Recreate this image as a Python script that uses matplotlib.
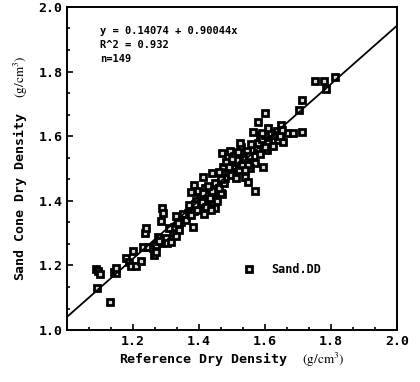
import numpy as np
import matplotlib
matplotlib.use("Agg")
import matplotlib.pyplot as plt
from matplotlib.ticker import MultipleLocator, AutoMinorLocator

# reference dry density vs sand cone dry density
ref_dd = [
    1.088, 1.092, 1.098, 1.089, 1.129, 1.141, 1.147, 1.147,
    1.177, 1.187, 1.200, 1.195, 1.210, 1.223, 1.231, 1.235, 1.238, 1.245,
    1.259, 1.262, 1.270, 1.274, 1.282, 1.268, 1.286, 1.289, 1.292, 1.299, 1.278,
    1.304, 1.315, 1.320, 1.325, 1.330, 1.340, 1.345, 1.355, 1.365, 1.370,
    1.381, 1.384, 1.401, 1.404, 1.427, 1.442, 1.447, 1.469, 1.569,
    1.376, 1.384, 1.392, 1.398, 1.411, 1.418, 1.425, 1.440, 1.447, 1.455,
    1.467, 1.310, 1.335, 1.350, 1.360, 1.375, 1.395, 1.410, 1.420, 1.432,
    1.438, 1.452, 1.460, 1.412, 1.428, 1.388,
    1.469, 1.488, 1.472, 1.488, 1.503, 1.510, 1.526, 1.533, 1.538, 1.549,
    1.564, 1.564, 1.571, 1.594, 1.579, 1.599, 1.564, 1.584, 1.594, 1.478,
    1.482, 1.495, 1.498, 1.505, 1.515, 1.518, 1.522, 1.530, 1.540, 1.545,
    1.552, 1.558, 1.575, 1.580, 1.590, 1.460, 1.475, 1.492, 1.512, 1.555,
    1.585, 1.548, 1.465, 1.500,
    1.605, 1.615, 1.620, 1.630, 1.648, 1.640, 1.656, 1.666, 1.686, 1.711,
    1.704, 1.711, 1.752, 1.780, 1.786, 1.813, 1.600, 1.608, 1.625, 1.635,
    1.645, 1.610, 1.652, 1.600,
    1.455, 1.435, 1.415, 1.540, 1.525, 1.592, 1.330,
]
sand_dd = [
    1.190, 1.182, 1.172, 1.131, 1.087, 1.180, 1.177, 1.193,
    1.222, 1.211, 1.245, 1.198, 1.198, 1.215, 1.256, 1.300, 1.315, 1.258,
    1.253, 1.232, 1.240, 1.289, 1.268, 1.262, 1.338, 1.377, 1.363, 1.284, 1.275,
    1.268, 1.273, 1.300, 1.320, 1.353, 1.310, 1.335, 1.346, 1.361, 1.387,
    1.320, 1.369, 1.387, 1.413, 1.402, 1.392, 1.377, 1.421, 1.431,
    1.428, 1.449, 1.400, 1.430, 1.475, 1.440, 1.418, 1.485, 1.456, 1.430,
    1.425, 1.315, 1.330, 1.360, 1.340, 1.355, 1.372, 1.395, 1.380, 1.410,
    1.430, 1.405, 1.440, 1.425, 1.445, 1.390,
    1.547, 1.537, 1.506, 1.490, 1.516, 1.500, 1.567, 1.537, 1.475, 1.459,
    1.557, 1.520, 1.516, 1.506, 1.645, 1.671, 1.614, 1.604, 1.578, 1.470,
    1.520, 1.555, 1.480, 1.540, 1.525, 1.550, 1.495, 1.510, 1.530, 1.555,
    1.540, 1.575, 1.560, 1.580, 1.592, 1.490, 1.455, 1.505, 1.470, 1.500,
    1.545, 1.510, 1.468, 1.530,
    1.557, 1.609, 1.588, 1.604, 1.635, 1.588, 1.583, 1.609, 1.609, 1.614,
    1.681, 1.712, 1.771, 1.771, 1.745, 1.782, 1.605, 1.580, 1.570, 1.615,
    1.600, 1.625, 1.620, 1.565,
    1.400, 1.370, 1.360, 1.495, 1.580, 1.610, 1.290,
]

intercept = 0.14074
slope = 0.90044
r2 = 0.932

plt.rcParams['mathtext.fontset'] = 'stix'
mono = 'DejaVu Sans Mono'

fig = plt.figure(figsize=(4.2, 3.82), dpi=100)
ax = fig.add_axes([0.16, 0.136, 0.785, 0.846])

ax.plot(ref_dd, sand_dd, linestyle='none', marker='s', markersize=5,
        markerfacecolor='#d8d8d8', markeredgecolor='black', markeredgewidth=2.0,
        label='Sand.DD')

xs = np.array([1.0, 2.0])
ax.plot(xs, intercept + slope * xs, color='black', linewidth=1.3)

ax.set_xlim(1.0, 2.0)
ax.set_ylim(1.0, 2.0)
ax.xaxis.set_major_locator(MultipleLocator(0.2))
ax.yaxis.set_major_locator(MultipleLocator(0.2))
ax.xaxis.set_minor_locator(AutoMinorLocator(3))
ax.yaxis.set_minor_locator(AutoMinorLocator(3))
ax.set_xticks([1.2, 1.4, 1.6, 1.8, 2.0])
ax.tick_params(which='both', direction='in', width=1.2)
ax.tick_params(which='major', length=4, labelsize=9.5)
ax.tick_params(which='minor', length=2.5)
for lab in ax.get_xticklabels() + ax.get_yticklabels():
    lab.set_fontfamily(mono)
    lab.set_fontweight('bold')
for sp in ax.spines.values():
    sp.set_linewidth(1.4)

ax.set_xlabel(r'Reference Dry Density  $(\mathrm{g/cm^3})$',
              fontfamily=mono, fontweight='bold', fontsize=9.5, labelpad=2)
ax.set_ylabel(r'Sand Cone Dry Density  $(\mathrm{g/cm^3})$',
              fontfamily=mono, fontweight='bold', fontsize=9.5, labelpad=6)

ax.text(0.1, 0.94, f'y = {intercept} + {slope}x\nR^2 = {r2}\nn={len(ref_dd)}',
        transform=ax.transAxes, va='top', ha='left', fontfamily=mono,
        fontweight='bold', fontsize=7.5, linespacing=1.5)

ax.legend(loc='center left', bbox_to_anchor=(0.50, 0.186), frameon=False,
          handlelength=1.0, handletextpad=1.4,
          prop={'family': mono, 'weight': 'bold', 'size': 8.5})

fig.savefig('out.png', dpi=100)
